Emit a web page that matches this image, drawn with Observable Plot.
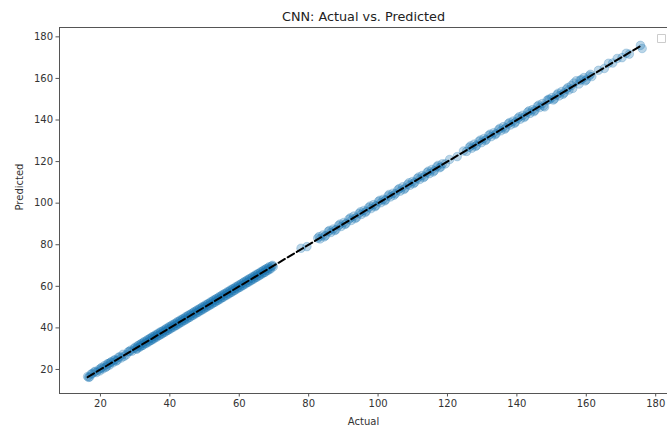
<!DOCTYPE html>
<html>
<head>
<meta charset="utf-8">
<script src="https://cdn.jsdelivr.net/npm/d3@7"></script>
<script src="https://cdn.jsdelivr.net/npm/@observablehq/plot@0.6"></script>
<style>
  html, body { margin: 0; padding: 0; background: #fff; }
  #chart svg { display: block; }
</style>
</head>
<body>
<div id="chart"></div>
<script>
const title = "CNN: Actual vs. Predicted";
const xLabel = "Actual";
const yLabel = "Predicted";
const xTicks = [20, 40, 60, 80, 100, 120, 140, 160, 180];
const yTicks = [20, 40, 60, 80, 100, 120, 140, 160, 180];

const actual = [
  16.3, 16.9, 17.6, 18.2, 18.8, 19.5, 20.1, 20.7, 21.2, 21.8, 22.3, 22.6, 23.1, 23.6, 24.2, 24.9,
  25.6, 26.0, 26.5, 27.4, 28.3, 29.1, 29.8, 30.3, 30.7, 31.2, 31.6, 32.0, 32.4, 32.9, 33.3, 33.7,
  34.1, 34.5, 34.9, 35.2, 35.6, 36.0, 36.4, 36.8, 37.2, 37.6, 38.0, 38.4, 38.8, 39.2, 39.6, 40.0,
  40.4, 40.8, 41.2, 41.6, 42.0, 42.4, 42.8, 43.2, 43.6, 44.0, 44.4, 44.8, 45.2, 45.6, 46.0, 46.4,
  46.8, 47.2, 47.6, 48.0, 48.4, 48.8, 49.2, 49.6, 50.0, 50.4, 50.8, 51.2, 51.6, 52.0, 52.4, 52.8,
  53.2, 53.6, 54.0, 54.4, 54.8, 55.2, 55.6, 56.0, 56.4, 56.8, 57.2, 57.6, 58.0, 58.4, 58.8, 59.2,
  59.6, 60.0, 60.4, 60.8, 61.2, 61.6, 62.0, 62.4, 62.8, 63.2, 63.6, 64.0, 64.4, 64.8, 65.2, 65.6,
  66.0, 66.4, 66.8, 67.2, 67.6, 68.0, 68.4, 68.8, 69.3, 69.8,
  16.6, 17.3, 18.5, 19.8, 20.4, 21.5, 22.0, 22.9, 23.9, 24.5, 25.2, 26.8, 28.0, 28.7, 30.0, 30.5,
  31.0, 31.4, 31.8, 32.2, 32.6, 33.1, 33.5, 33.9, 34.3, 34.7, 35.0, 35.4, 35.8, 36.2, 36.6, 37.0,
  37.4, 37.8, 38.2, 38.6, 39.0, 39.4, 39.8, 40.2, 40.6, 41.0, 41.4, 41.8, 42.2, 42.6, 43.0, 43.4,
  43.8, 44.2, 44.6, 45.0, 45.4, 45.8, 46.2, 46.6, 47.0, 47.4, 47.8, 48.2, 48.6, 49.0, 49.4, 49.8,
  50.2, 50.6, 51.0, 51.4, 51.8, 52.2, 52.6, 53.0, 53.4, 53.8, 54.2, 54.6, 55.0, 55.4, 55.8, 56.2,
  56.6, 57.0, 57.4, 57.8, 58.2, 58.6, 59.0, 59.4, 59.8, 60.2, 60.6, 61.0, 61.4, 61.8, 62.2, 62.6,
  63.0, 63.4, 63.8, 64.2, 64.6, 65.0, 65.4, 65.8, 66.2, 66.6, 67.0, 67.4, 67.8, 68.2, 68.6, 69.0,
  69.6,
  77.8, 79.5, 82.6, 83.3, 84.1, 84.9, 85.6, 86.4, 87.1, 87.9, 88.6, 89.4, 90.1, 90.8, 91.6, 92.3,
  93.0, 93.8, 94.5, 95.2, 95.9, 96.6, 97.3, 98.0, 98.7, 99.4, 100.1, 100.8, 101.5, 102.2, 102.9, 103.6,
  104.3, 105.0, 105.7, 106.4, 107.1, 107.8, 108.5, 109.2, 109.9, 110.6, 111.3, 112.0, 112.7, 113.4, 114.1, 114.8,
  115.5, 116.2, 116.9, 117.7, 118.5, 119.4, 120.6, 122.8, 124.6, 125.5, 126.3, 127.0, 127.7, 128.4, 129.1, 129.8,
  130.5, 131.2, 131.9, 132.6, 133.3, 134.0, 134.7, 135.4, 136.1, 136.8, 137.5, 138.2, 138.9, 139.6, 140.3, 141.0,
  141.7, 142.4, 143.1, 143.8, 144.5, 145.2, 145.9, 146.6, 147.3, 148.0, 148.7, 149.4, 150.1, 150.8, 151.5, 152.2,
  152.9, 153.6, 154.3, 155.0, 155.7, 156.4, 157.1, 157.9, 158.6, 159.3, 160.0, 160.8, 161.6, 163.5, 165.2, 166.4,
  167.6, 168.9, 170.3, 171.5, 172.4, 175.6, 176.1,
  83.0, 84.5, 86.0, 87.5, 89.0, 90.5, 92.0, 93.4, 94.9, 96.3, 97.7, 99.1, 100.5, 101.9, 103.2, 104.6,
  106.1, 107.5, 108.9, 110.2, 111.7, 113.1, 114.5, 115.9, 117.3, 118.1, 126.7, 128.1, 129.5, 130.9, 132.3, 133.7,
  135.1, 136.5, 137.9, 139.3, 140.7, 142.1, 143.5, 144.9, 146.3, 147.7, 149.1, 150.5, 151.9, 153.3, 154.7, 156.1,
  158.2, 159.7, 161.2
];

const predicted = [
  16.6, 16.4, 17.9, 18.8, 18.5, 19.9, 20.6, 20.3, 21.9, 21.4, 22.8, 22.1, 23.7, 23.2, 24.6, 24.5,
  26.1, 25.5, 27.3, 27.0, 28.6, 28.8, 30.2, 29.9, 31.3, 30.8, 32.2, 31.5, 32.9, 32.5, 33.8, 33.2,
  34.7, 34.0, 35.5, 34.8, 36.1, 35.7, 36.9, 36.3, 37.8, 37.1, 38.4, 38.0, 39.3, 38.7, 40.0, 39.5,
  40.9, 40.4, 41.7, 41.1, 42.5, 41.9, 43.3, 42.8, 44.1, 43.6, 44.9, 44.3, 45.8, 45.1, 46.5, 46.0,
  47.4, 46.8, 48.1, 47.5, 48.9, 48.4, 49.8, 49.1, 50.4, 50.0, 51.3, 50.8, 52.1, 51.5, 52.9, 52.3,
  53.8, 53.1, 54.5, 53.9, 55.3, 54.7, 56.2, 55.6, 56.9, 56.3, 57.7, 57.2, 58.6, 57.9, 59.3, 58.8,
  60.1, 59.6, 60.9, 60.3, 61.8, 61.1, 62.5, 62.0, 63.4, 62.7, 64.1, 63.5, 64.9, 64.4, 65.8, 65.1,
  66.5, 66.0, 67.3, 66.7, 68.2, 67.6, 68.9, 68.4, 69.7, 69.4,
  16.2, 17.8, 19.1, 19.3, 21.0, 21.0, 22.7, 23.4, 24.5, 24.0, 25.9, 26.3, 28.5, 29.3, 30.7, 29.8,
  31.7, 30.8, 32.5, 31.6, 33.4, 32.4, 34.3, 33.2, 35.0, 34.1, 35.8, 34.7, 36.6, 35.5, 37.4, 36.4,
  38.2, 37.1, 38.9, 37.9, 39.8, 38.8, 40.6, 39.5, 41.4, 40.3, 42.1, 41.1, 43.0, 41.9, 43.8, 42.7,
  44.5, 43.5, 45.4, 44.3, 46.2, 45.1, 46.9, 45.9, 47.8, 46.7, 48.6, 47.5, 49.3, 48.3, 50.2, 49.1,
  51.0, 49.9, 51.7, 50.7, 52.6, 51.5, 53.4, 52.3, 54.1, 53.1, 55.0, 53.9, 55.8, 54.7, 56.5, 55.5,
  57.4, 56.3, 58.2, 57.1, 58.9, 57.9, 59.8, 58.7, 60.6, 59.5, 61.3, 60.3, 62.2, 61.1, 63.0, 61.9,
  63.7, 62.7, 64.6, 63.5, 65.4, 64.3, 66.1, 65.1, 67.0, 65.9, 67.8, 66.7, 68.5, 67.5, 69.4, 68.3,
  70.1,
  78.3, 79.1, 83.2, 82.8, 84.7, 84.4, 86.3, 85.9, 87.6, 87.3, 89.2, 88.8, 90.7, 90.2, 92.3, 91.7,
  93.8, 93.1, 95.0, 94.6, 96.5, 96.1, 97.9, 97.4, 99.3, 98.8, 100.8, 100.2, 101.9, 101.6, 103.5, 103.0,
  104.8, 104.5, 106.4, 105.8, 107.9, 107.2, 109.0, 108.6, 110.4, 110.0, 111.9, 111.4, 113.3, 112.8, 114.7, 114.2,
  116.2, 115.6, 117.5, 117.0, 118.9, 118.9, 121.0, 122.4, 125.1, 124.9, 126.9, 126.4, 128.4, 127.8, 129.8, 129.1,
  131.1, 130.6, 132.6, 132.0, 133.9, 133.4, 135.3, 134.8, 136.8, 136.2, 138.2, 137.6, 139.5, 139.0, 140.9, 140.4,
  142.3, 141.8, 143.8, 143.2, 145.0, 144.6, 146.6, 146.0, 147.9, 146.3, 149.4, 149.9, 150.8, 150.1, 152.1, 151.6,
  153.7, 153.0, 154.9, 154.4, 156.6, 157.8, 158.9, 157.3, 159.5, 160.4, 159.3, 161.2, 160.9, 163.9, 164.8, 167.3,
  167.4, 169.6, 170.0, 172.1, 171.7, 175.9, 174.4,
  83.9, 83.8, 86.9, 86.8, 89.9, 89.8, 92.9, 92.6, 95.8, 95.5, 98.6, 98.3, 101.4, 101.1, 104.2, 103.8,
  107.0, 106.6, 109.8, 109.4, 112.6, 112.3, 115.4, 115.0, 118.2, 117.4, 127.6, 127.3, 130.4, 130.1, 133.2, 132.9,
  136.0, 135.6, 138.8, 138.4, 141.6, 141.2, 144.4, 144.0, 147.2, 146.8, 150.0, 149.6, 152.9, 152.4, 155.6, 155.2,
  159.1, 158.8, 162.0
];

const points = actual.map((a, i) => ({actual: a, predicted: predicted[i]}));
const lo = d3.min(actual), hi = d3.max(actual);
const diag = [{v: lo}, {v: hi}];

const font = "DejaVu Sans, sans-serif";

const chart = Plot.plot({
  width: 667,
  height: 427,
  marginLeft: 59,
  marginRight: 0,
  marginTop: 27,
  marginBottom: 34,
  style: {fontFamily: font, fontSize: "10px", color: "#333", background: "white"},
  x: {domain: [8.2, 183.4], label: null},
  y: {domain: [8.44, 184.5], label: null},
  marks: [
    Plot.frame({anchor: "left", stroke: "#555", strokeWidth: 1}),
    Plot.frame({anchor: "bottom", stroke: "#555", strokeWidth: 1}),
    Plot.frame({anchor: "top", stroke: "#555", strokeWidth: 1}),
    Plot.axisX({ticks: xTicks, tickSize: 3.5, tickPadding: 3, label: null, stroke: "#555", fill: "#333", fontSize: 10}),
    Plot.axisY({ticks: yTicks, tickSize: 3.5, tickPadding: 3, label: null, stroke: "#555", fill: "#333", fontSize: 10}),
    Plot.dot(points, {x: "actual", y: "predicted", r: 4.3, fill: "#1f77b4", fillOpacity: 0.3, stroke: "#1f77b4", strokeOpacity: 0.25, strokeWidth: 1}),
    Plot.line(diag, {x: "v", y: "v", stroke: "black", strokeWidth: 2, strokeDasharray: "7.4,3.2"}),
    Plot.text([title], {frameAnchor: "top", dy: -11, fontSize: 12.8, fill: "#222", lineAnchor: "middle"}),
    Plot.text([xLabel], {frameAnchor: "bottom", dy: 28, fontSize: 10, fill: "#333", lineAnchor: "middle"}),
    Plot.text([yLabel], {frameAnchor: "left", dx: -40, rotate: -90, fontSize: 10, fill: "#333", lineAnchor: "middle"}),
    Plot.dot([0], {frameAnchor: "top-right", dx: -6, dy: 11, symbol: "square", r: 4.5, stroke: "#ccc", fill: "white", strokeWidth: 1})
  ]
});

document.getElementById("chart").appendChild(chart);
</script>
</body>
</html>
